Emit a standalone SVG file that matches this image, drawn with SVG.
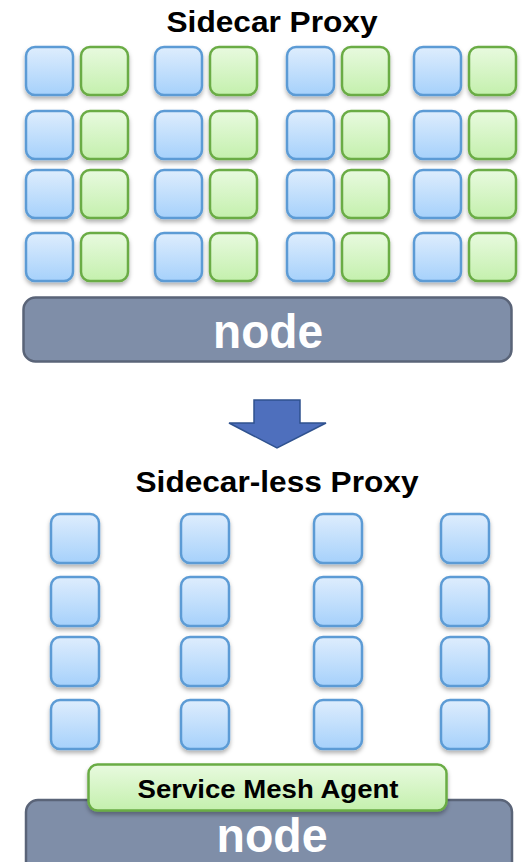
<svg xmlns="http://www.w3.org/2000/svg" width="528" height="862" viewBox="0 0 528 862">
  <defs>
    <linearGradient id="gBlue" x1="0" y1="0" x2="0" y2="1">
      <stop offset="0" stop-color="#deedfd"/>
      <stop offset="1" stop-color="#a6d1fb"/>
    </linearGradient>
    <linearGradient id="gGreen" x1="0" y1="0" x2="0" y2="1">
      <stop offset="0" stop-color="#e8fadf"/>
      <stop offset="1" stop-color="#c4f0ad"/>
    </linearGradient>
    <filter id="shadow" x="-20%" y="-20%" width="140%" height="150%">
      <feDropShadow dx="0" dy="3" stdDeviation="2" flood-color="#000" flood-opacity="0.3"/>
    </filter>
  </defs>
  <style>
    .svc { fill: url(#gBlue); stroke: #5b9bd5; stroke-width: 2.5; filter: url(#shadow); }
    .prx { fill: url(#gGreen); stroke: #6aac45; stroke-width: 2.5; filter: url(#shadow); }
    .host { fill: #7f8ea8; stroke: #5a6478; stroke-width: 2.5; }
    .title { font-family: "Liberation Sans", Arial, sans-serif; font-weight: bold; font-size: 30px; fill: #000; text-anchor: middle; }
    .hostlbl { font-family: "Liberation Sans", Arial, sans-serif; font-weight: bold; font-size: 48px; fill: #fff; text-anchor: middle; }
    .agentlbl { font-family: "Liberation Sans", Arial, sans-serif; font-weight: bold; font-size: 25px; fill: #000; text-anchor: middle; }
  </style>

  <rect width="528" height="862" fill="#fff"/>

  <!-- Upper panel: pods with sidecar proxies -->
  <text class="title" x="272" y="32" textLength="211" lengthAdjust="spacingAndGlyphs">Sidecar Proxy</text>

  <g id="sidecar-pods">
    <!-- row 1 -->
    <rect class="svc" x="26" y="47" width="47" height="48" rx="9"/>
    <rect class="prx" x="81" y="47" width="47" height="48" rx="9"/>
    <rect class="svc" x="155" y="47" width="47" height="48" rx="9"/>
    <rect class="prx" x="210" y="47" width="47" height="48" rx="9"/>
    <rect class="svc" x="287" y="47" width="47" height="48" rx="9"/>
    <rect class="prx" x="342" y="47" width="47" height="48" rx="9"/>
    <rect class="svc" x="414" y="47" width="47" height="48" rx="9"/>
    <rect class="prx" x="469" y="47" width="47" height="48" rx="9"/>
    <!-- row 2 -->
    <rect class="svc" x="26" y="111" width="47" height="48" rx="9"/>
    <rect class="prx" x="81" y="111" width="47" height="48" rx="9"/>
    <rect class="svc" x="155" y="111" width="47" height="48" rx="9"/>
    <rect class="prx" x="210" y="111" width="47" height="48" rx="9"/>
    <rect class="svc" x="287" y="111" width="47" height="48" rx="9"/>
    <rect class="prx" x="342" y="111" width="47" height="48" rx="9"/>
    <rect class="svc" x="414" y="111" width="47" height="48" rx="9"/>
    <rect class="prx" x="469" y="111" width="47" height="48" rx="9"/>
    <!-- row 3 -->
    <rect class="svc" x="26" y="170" width="47" height="48" rx="9"/>
    <rect class="prx" x="81" y="170" width="47" height="48" rx="9"/>
    <rect class="svc" x="155" y="170" width="47" height="48" rx="9"/>
    <rect class="prx" x="210" y="170" width="47" height="48" rx="9"/>
    <rect class="svc" x="287" y="170" width="47" height="48" rx="9"/>
    <rect class="prx" x="342" y="170" width="47" height="48" rx="9"/>
    <rect class="svc" x="414" y="170" width="47" height="48" rx="9"/>
    <rect class="prx" x="469" y="170" width="47" height="48" rx="9"/>
    <!-- row 4 -->
    <rect class="svc" x="26" y="233" width="47" height="48" rx="9"/>
    <rect class="prx" x="81" y="233" width="47" height="48" rx="9"/>
    <rect class="svc" x="155" y="233" width="47" height="48" rx="9"/>
    <rect class="prx" x="210" y="233" width="47" height="48" rx="9"/>
    <rect class="svc" x="287" y="233" width="47" height="48" rx="9"/>
    <rect class="prx" x="342" y="233" width="47" height="48" rx="9"/>
    <rect class="svc" x="414" y="233" width="47" height="48" rx="9"/>
    <rect class="prx" x="469" y="233" width="47" height="48" rx="9"/>
  </g>

  <g id="node-top">
    <rect class="host" x="23.5" y="297.5" width="488" height="64" rx="12"/>
    <text class="hostlbl" x="268" y="348" textLength="110" lengthAdjust="spacingAndGlyphs">node</text>
  </g>

  <!-- Transition arrow -->
  <g id="arrow">
    <polygon points="254,400 300,400 300,423 326,423 277,448 229,423 254,423" fill="#4e6fbd" stroke="#2f528f" stroke-width="1.5" stroke-linejoin="miter"/>
  </g>

  <!-- Lower panel: pods sharing one agent -->
  <text class="title" x="277" y="492" textLength="283" lengthAdjust="spacingAndGlyphs">Sidecar-less Proxy</text>

  <g id="sidecarless-pods">
    <rect class="svc" x="51" y="514" width="48" height="49" rx="9"/>
    <rect class="svc" x="181" y="514" width="48" height="49" rx="9"/>
    <rect class="svc" x="314" y="514" width="48" height="49" rx="9"/>
    <rect class="svc" x="441" y="514" width="48" height="49" rx="9"/>

    <rect class="svc" x="51" y="577" width="48" height="49" rx="9"/>
    <rect class="svc" x="181" y="577" width="48" height="49" rx="9"/>
    <rect class="svc" x="314" y="577" width="48" height="49" rx="9"/>
    <rect class="svc" x="441" y="577" width="48" height="49" rx="9"/>

    <rect class="svc" x="51" y="637" width="48" height="49" rx="9"/>
    <rect class="svc" x="181" y="637" width="48" height="49" rx="9"/>
    <rect class="svc" x="314" y="637" width="48" height="49" rx="9"/>
    <rect class="svc" x="441" y="637" width="48" height="49" rx="9"/>

    <rect class="svc" x="51" y="700" width="48" height="49" rx="9"/>
    <rect class="svc" x="181" y="700" width="48" height="49" rx="9"/>
    <rect class="svc" x="314" y="700" width="48" height="49" rx="9"/>
    <rect class="svc" x="441" y="700" width="48" height="49" rx="9"/>
  </g>

  <g id="node-bottom">
    <rect class="host" x="26" y="800" width="486" height="80" rx="12"/>
    <text class="hostlbl" x="272" y="852" textLength="111" lengthAdjust="spacingAndGlyphs">node</text>
  </g>

  <g id="mesh-agent">
    <rect class="prx" x="88.5" y="764.5" width="358" height="46" rx="9"/>
    <text class="agentlbl" x="268" y="798" textLength="261" lengthAdjust="spacingAndGlyphs">Service Mesh Agent</text>
  </g>
</svg>
